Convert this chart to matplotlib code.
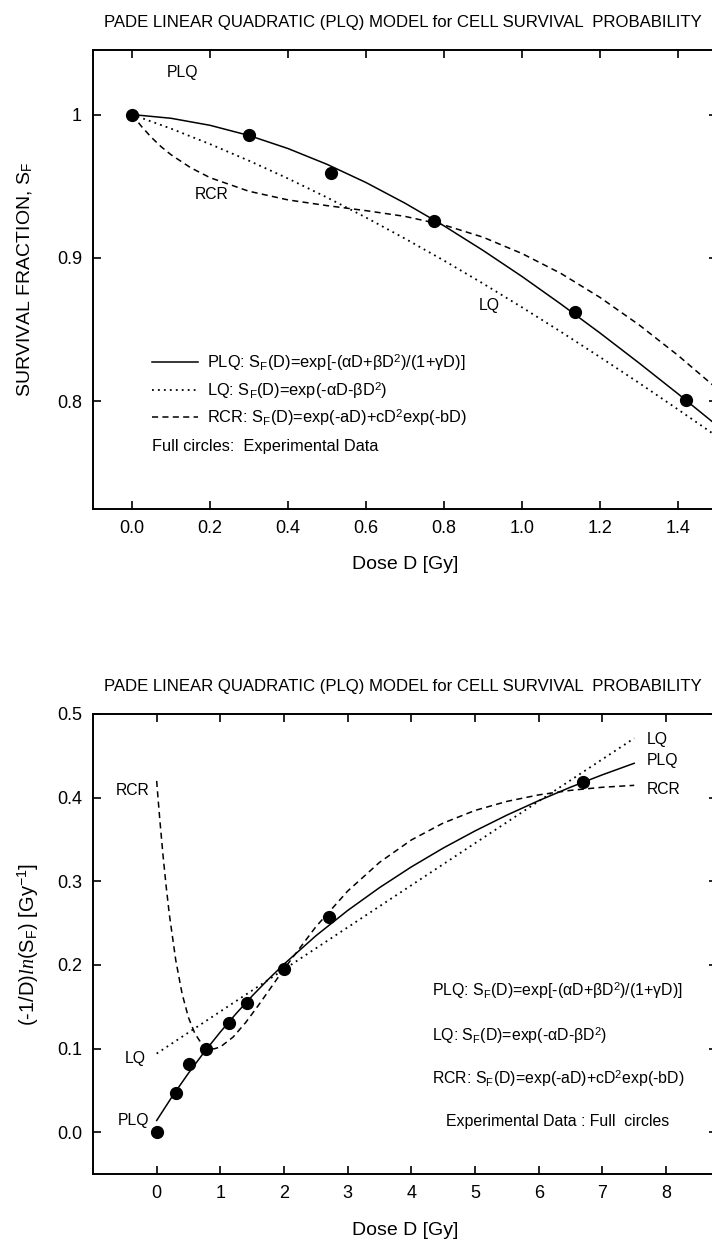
import matplotlib
matplotlib.use('Agg')
import matplotlib.pyplot as plt
import matplotlib.font_manager as fm
from matplotlib.ticker import FixedLocator, FixedFormatter

# ---------------- data ----------------
# Top panel: survival fraction vs dose
top_exp_dose = [0.0, 0.30, 0.51, 0.775, 1.135, 1.42]
top_exp_sf = [1.0, 0.986, 0.959, 0.926, 0.862, 0.801]

top_dose = [0.0, 0.1, 0.2, 0.3, 0.4, 0.5, 0.6, 0.7, 0.8, 0.9, 1.0, 1.1, 1.2, 1.3, 1.4, 1.5]
top_plq = [1.0, 0.9974, 0.9925, 0.9854, 0.9763, 0.9653, 0.9526, 0.9382, 0.9224, 0.9053,
           0.8871, 0.8678, 0.8477, 0.8268, 0.8053, 0.7832]
top_lq = [1.0, 0.9902, 0.9794, 0.9678, 0.9554, 0.9422, 0.9282, 0.9135, 0.8982, 0.8822,
          0.8656, 0.8485, 0.8309, 0.8129, 0.7944, 0.7756]
top_rcr_dose = [0.0, 0.025, 0.05, 0.075, 0.1, 0.15, 0.2, 0.3, 0.4, 0.5, 0.6, 0.7, 0.8,
                0.9, 1.0, 1.1, 1.2, 1.3, 1.4, 1.5]
top_rcr = [1.0, 0.9915, 0.9840, 0.9775, 0.9720, 0.9630, 0.9560, 0.9465, 0.9405, 0.9365,
           0.9330, 0.9290, 0.9230, 0.9145, 0.9031, 0.8892, 0.8725, 0.8534, 0.8321, 0.8089]

# Bottom panel: (-1/D) ln(SF) vs dose
bot_exp_dose = [0.0, 0.30, 0.51, 0.775, 1.135, 1.42, 2.0, 2.7, 6.7]
bot_exp_val = [0.0, 0.047, 0.082, 0.099, 0.131, 0.155, 0.195, 0.257, 0.419]

bot_plq_dose = [0.0, 0.25, 0.5, 0.75, 1.0, 1.25, 1.5, 1.75, 2.0, 2.5, 3.0, 3.5, 4.0,
                4.5, 5.0, 5.5, 6.0, 6.5, 7.0, 7.5]
bot_plq = [0.014, 0.0434, 0.0706, 0.0961, 0.1198, 0.1420, 0.1629, 0.1825, 0.2009, 0.2348,
           0.2651, 0.2924, 0.3172, 0.3397, 0.3602, 0.3791, 0.3964, 0.4125, 0.4273, 0.4411]
bot_lq_dose = [0.0, 2.5, 5.0, 7.5]
bot_lq = [0.094, 0.2198, 0.3455, 0.471]
bot_rcr_dose = [0.0, 0.02, 0.05, 0.1, 0.15, 0.2, 0.3, 0.4, 0.5, 0.6, 0.7, 0.8, 0.9, 1.0,
                1.2, 1.4, 1.6, 1.8, 2.0, 2.5, 3.0, 3.5, 4.0, 4.5, 5.0, 5.5, 6.0, 6.5, 7.0, 7.5]
bot_rcr = [0.420, 0.4006, 0.3730, 0.3307, 0.2931, 0.2598, 0.2055, 0.1653, 0.1369, 0.1179,
           0.1064, 0.1007, 0.0996, 0.1019, 0.1137, 0.1313, 0.1519, 0.1735, 0.1951, 0.2456,
           0.2883, 0.3226, 0.3494, 0.3696, 0.3847, 0.3955, 0.4033, 0.4087, 0.4124, 0.4147]

top_xticks = [0.0, 0.2, 0.4, 0.6, 0.8, 1.0, 1.2, 1.4]
top_xticklabels = ['0.0', '0.2', '0.4', '0.6', '0.8', '1.0', '1.2', '1.4']
top_yticks = [0.8, 0.9, 1.0]
top_yticklabels = ['0.8', '0.9', '1']
bot_xticks = [0, 1, 2, 3, 4, 5, 6, 7, 8]
bot_xticklabels = ['0', '1', '2', '3', '4', '5', '6', '7', '8']
bot_yticks = [0.0, 0.1, 0.2, 0.3, 0.4, 0.5]
bot_yticklabels = ['0.0', '0.1', '0.2', '0.3', '0.4', '0.5']

TITLE = 'PADE LINEAR QUADRATIC (PLQ) MODEL for CELL SURVIVAL  PROBABILITY'
LEG_PLQ = r'PLQ: S$_\mathrm{F}$(D)=exp[-(αD+βD$^\mathrm{2}$)/(1+γD)]'
LEG_LQ = r'LQ: S$_\mathrm{F}$(D)=exp(-αD-βD$^\mathrm{2}$)'
LEG_RCR = r'RCR: S$_\mathrm{F}$(D)=exp(-aD)+cD$^\mathrm{2}$exp(-bD)'

# ---------------- fonts ----------------
def has_font(name):
    try:
        fm.findfont(fm.FontProperties(family=name), fallback_to_default=False)
        return True
    except Exception:
        return False

REG = ['Liberation Sans', 'DejaVu Sans']
NARROW = (['Liberation Sans Narrow'] if has_font('Liberation Sans Narrow') else []) + REG
plt.rcParams['font.family'] = REG
plt.rcParams['mathtext.fontset'] = 'custom'
plt.rcParams['mathtext.rm'] = 'Liberation Sans'
plt.rcParams['mathtext.it'] = 'Liberation Serif:italic'
plt.rcParams['mathtext.bf'] = 'Liberation Sans:bold'

W, H = 712, 1240
fig = plt.figure(figsize=(W / 100, H / 100), dpi=100)

def fx(px):
    return px / W

def fy(py):
    return 1 - py / H

ax1 = fig.add_axes([fx(93), fy(509), fx(717) - fx(93), fy(50) - fy(509)])
ax2 = fig.add_axes([fx(93), fy(1174), fx(717) - fx(93), fy(714) - fy(1174)])

LW = 1.1
DOT = (0, (1.0, 2.3))
DASH = (0, (4.0, 2.8))
MS = 8.5
LEGFS = 11.8
LABFS = 11.3

def style(ax):
    for s in ax.spines.values():
        s.set_linewidth(1.4)
    ax.tick_params(direction='in', length=6, width=1.2, top=True, right=True,
                   labelsize=13, pad=8)

# ---------------- top panel ----------------
ax1.plot(top_dose, top_plq, color='black', lw=LW, ls='-')
ax1.plot(top_dose, top_lq, color='black', lw=LW + 0.2, ls=DOT)
ax1.plot(top_rcr_dose, top_rcr, color='black', lw=LW, ls=DASH)
ax1.plot(top_exp_dose, top_exp_sf, 'o', color='black', ms=MS, ls='none')
ax1.set_xlim(-0.1, 1.5)
ax1.set_ylim(0.725, 1.045)
style(ax1)
ax1.xaxis.set_major_locator(FixedLocator(top_xticks))
ax1.xaxis.set_major_formatter(FixedFormatter(top_xticklabels))
ax1.yaxis.set_major_locator(FixedLocator(top_yticks))
ax1.yaxis.set_major_formatter(FixedFormatter(top_yticklabels))
for t in ax1.get_xticklabels():
    t.set_family(NARROW)
    t.set_fontsize(13)
ax1.set_xlabel('Dose D [Gy]', family=NARROW, fontsize=14)
ax1.xaxis.set_label_coords(0.5, -0.122)
ax1.xaxis.label.set_va('center')
ax1.set_ylabel(r'SURVIVAL FRACTION, S$_\mathrm{F}$', fontsize=14)
ax1.yaxis.set_label_coords(-0.109, 0.5)
ax1.yaxis.label.set_va('center')

ax1.text(0.09, 1.029, 'PLQ', fontsize=LABFS, ha='left', va='center')
ax1.text(0.16, 0.944, 'RCR', fontsize=LABFS, ha='left', va='center')
ax1.text(0.89, 0.867, 'LQ', fontsize=LABFS, ha='left', va='center')

lx = [0.051, 0.169]
ax1.plot(lx, [0.8274, 0.8274], color='black', lw=LW, ls='-')
ax1.plot(lx, [0.8077, 0.8077], color='black', lw=LW + 0.2, ls=DOT)
ax1.plot(lx, [0.7888, 0.7888], color='black', lw=LW, ls=DASH)
ax1.text(0.192, 0.8274, LEG_PLQ, fontsize=LEGFS, ha='left', va='center')
ax1.text(0.192, 0.8077, LEG_LQ, fontsize=LEGFS, ha='left', va='center')
ax1.text(0.192, 0.7888, LEG_RCR, fontsize=LEGFS, ha='left', va='center')
ax1.text(0.051, 0.7684, 'Full circles:  Experimental Data', fontsize=LEGFS, ha='left', va='center')

# ---------------- bottom panel ----------------
ax2.plot(bot_plq_dose, bot_plq, color='black', lw=LW, ls='-')
ax2.plot(bot_lq_dose, bot_lq, color='black', lw=LW + 0.2, ls=DOT)
ax2.plot(bot_rcr_dose, bot_rcr, color='black', lw=LW, ls=DASH)
ax2.plot(bot_exp_dose, bot_exp_val, 'o', color='black', ms=MS, ls='none')
ax2.set_xlim(-1.0, 8.8)
ax2.set_ylim(-0.05, 0.5)
style(ax2)
ax2.xaxis.set_major_locator(FixedLocator(bot_xticks))
ax2.xaxis.set_major_formatter(FixedFormatter(bot_xticklabels))
ax2.yaxis.set_major_locator(FixedLocator(bot_yticks))
ax2.yaxis.set_major_formatter(FixedFormatter(bot_yticklabels))
ax2.set_xlabel('Dose D [Gy]', family=NARROW, fontsize=14)
ax2.xaxis.set_label_coords(0.5, -0.122)
ax2.xaxis.label.set_va('center')
ax2.set_ylabel(r'(-1/D)$\mathit{ln}$(S$_\mathrm{F}$) [Gy$^\mathrm{-1}$]', fontsize=14.5)
ax2.yaxis.set_label_coords(-0.104, 0.5)
ax2.yaxis.label.set_va('center')

ax2.text(-0.12, 0.409, 'RCR', fontsize=LABFS, ha='right', va='center')
ax2.text(-0.17, 0.088, 'LQ', fontsize=LABFS, ha='right', va='center')
ax2.text(-0.12, 0.014, 'PLQ', fontsize=LABFS, ha='right', va='center')
ax2.text(7.7, 0.470, 'LQ', fontsize=LABFS, ha='left', va='center')
ax2.text(7.7, 0.445, 'PLQ', fontsize=LABFS, ha='left', va='center')
ax2.text(7.7, 0.410, 'RCR', fontsize=LABFS, ha='left', va='center')

ax2.text(4.33, 0.1693, LEG_PLQ, fontsize=LEGFS - 0.4, ha='left', va='center')
ax2.text(4.33, 0.1153, LEG_LQ, fontsize=LEGFS - 0.4, ha='left', va='center')
ax2.text(4.33, 0.0638, LEG_RCR, fontsize=LEGFS - 0.4, ha='left', va='center')
ax2.text(4.55, 0.0123, 'Experimental Data : Full  circles', fontsize=LEGFS - 0.4,
         ha='left', va='center')

# ---------------- titles ----------------
fig.text(fx(403), fy(22), TITLE, family=NARROW, fontsize=12.1, ha='center', va='center')
fig.text(fx(403), fy(686), TITLE, family=NARROW, fontsize=12.1, ha='center', va='center')

fig.savefig('out.png', dpi=100)
